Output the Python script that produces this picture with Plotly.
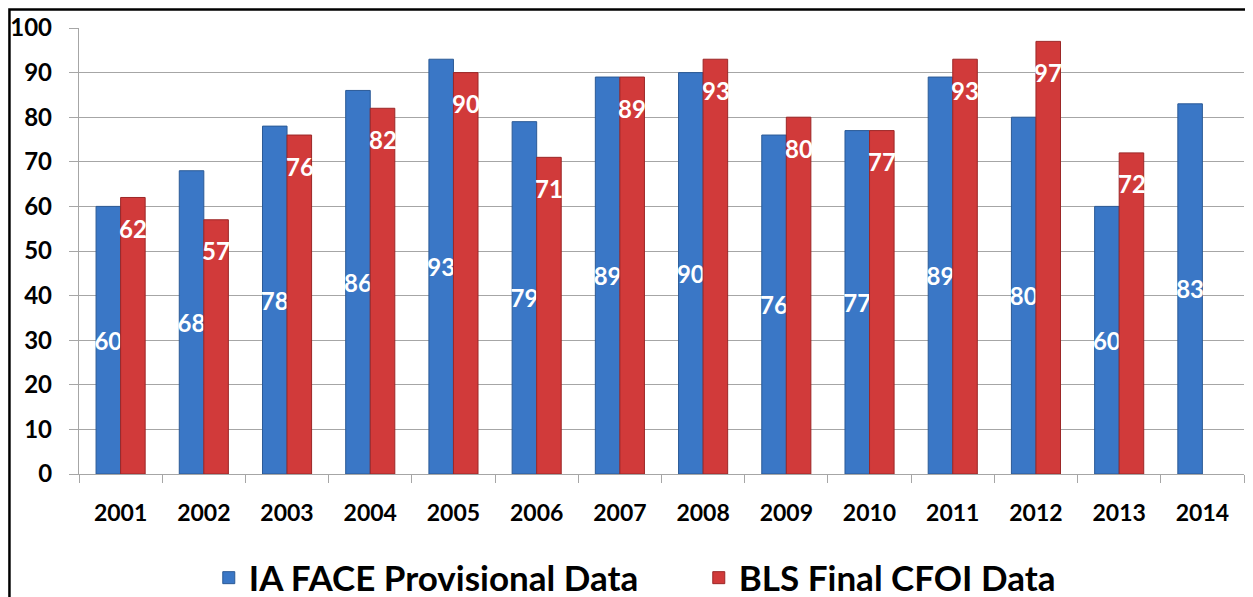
import plotly.graph_objects as go

years = [str(y) for y in range(2001, 2015)]
face_values = [60, 68, 78, 86, 93, 79, 89, 90, 76, 77, 89, 80, 60, 83]
cfoi_values = [62, 57, 76, 82, 90, 71, 89, 93, 80, 77, 93, 97, 72, None]

FONT = "Lato"
LABEL_FONT = dict(family=FONT, size=24, color="white", weight="bold")

fig = go.Figure()
fig.add_trace(go.Bar(
    x=years, y=face_values, name="IA FACE Provisional Data",
    marker=dict(color="#3a77c6", line=dict(color="#2b5a96", width=1)),
    text=[str(v) for v in face_values],
    textposition="inside", insidetextanchor="middle",
    textfont=LABEL_FONT,
))
fig.add_trace(go.Bar(
    x=years, y=cfoi_values, name="BLS Final CFOI Data",
    marker=dict(color="#d13a3a", line=dict(color="#9c2727", width=1)),
))

# red labels sit just below the top of each red bar
# (category index, because "2001" would be read as a position)
for i, v in enumerate(cfoi_values):
    if v is None:
        continue
    fig.add_annotation(
        x=i, y=v, text=str(v), showarrow=False,
        xshift=12.5, yshift=-31, font=LABEL_FONT,
    )

# page body has an 8px margin, so the figure is a bit smaller than the window
fig.update_layout(
    width=1245, height=589,
    margin=dict(l=71, r=9, t=20, b=123, autoexpand=False),
    paper_bgcolor="white", plot_bgcolor="white",
    barmode="group", bargap=0.41, bargroupgap=0,
    uniformtext=dict(minsize=24, mode="show"),
    showlegend=True,
    legend=dict(
        orientation="h", x=0.532, xanchor="center", y=-0.233, yanchor="middle",
        bgcolor="rgba(0,0,0,0)",
        font=dict(family=FONT, size=35, color="black", weight="bold"),
        itemwidth=30, entrywidthmode="pixels", entrywidth=445,
    ),
    shapes=[dict(
        type="rect", xref="paper", yref="paper",
        x0=-0.0597, x1=1.05, y0=-0.4, y1=1.0415,
        line=dict(color="black", width=2.5), fillcolor="rgba(0,0,0,0)",
    )],
)
fig.update_yaxes(
    range=[0, 100], dtick=10, showgrid=True, gridcolor="#a6a6a6", gridwidth=1.3,
    showline=True, linecolor="#a6a6a6", linewidth=1.3,
    ticks="outside", ticklen=9, tickcolor="#a6a6a6",
    ticklabelstandoff=12, zeroline=False,
    tickfont=dict(family=FONT, size=24, color="black", weight="bold"),
)
fig.update_xaxes(
    type="category",
    showline=True, linecolor="#a6a6a6", linewidth=1.3,
    ticks="outside", tickson="boundaries", ticklen=8, tickcolor="#a6a6a6",
    ticklabelstandoff=18,
    tickfont=dict(family=FONT, size=23, color="black", weight="bold"),
)

fig.write_html("out.html")
